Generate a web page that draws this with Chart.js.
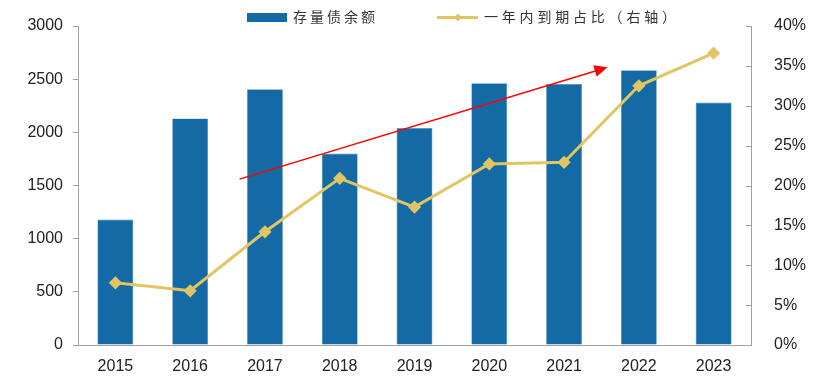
<!DOCTYPE html>
<html>
<head>
<meta charset="utf-8">
<script src="https://cdn.jsdelivr.net/npm/chart.js@4"></script>
<style>
  html, body { margin: 0; padding: 0; background: #fff; }
  #wrap { width: 817px; height: 391px; }
</style>
</head>
<body>
<div id="wrap"><canvas id="chart" width="817" height="391"></canvas></div>
<script>
const years = ['2015', '2016', '2017', '2018', '2019', '2020', '2021', '2022', '2023'];
const stock = [1180, 2130, 2405, 1800, 2040, 2462, 2455, 2585, 2280];
const dueRatio = [0.078, 0.068, 0.142, 0.209, 0.173, 0.227, 0.229, 0.325, 0.366];
const leftTicks = [0, 500, 1000, 1500, 2000, 2500, 3000];
const rightTicks = [0, 0.05, 0.1, 0.15, 0.2, 0.25, 0.3, 0.35, 0.4];
const seriesNames = ['存量债余额', '一年内到期占比（右轴）'];
// trend arrow, in data units (category index, left axis value)
const arrowFrom = [1.66, 1560];
const arrowTo = [6.58, 2612];

const BLUE = '#146aa4';
const GOLD = '#e2c563';

const trendArrow = {
  id: 'trendArrow',
  afterDatasetsDraw(chart) {
    const { ctx, scales } = chart;
    const x1 = scales.x.getPixelForValue(arrowFrom[0]);
    const y1 = scales.y.getPixelForValue(arrowFrom[1]);
    const x2 = scales.x.getPixelForValue(arrowTo[0]);
    const y2 = scales.y.getPixelForValue(arrowTo[1]);
    const ang = Math.atan2(y2 - y1, x2 - x1);
    ctx.save();
    ctx.strokeStyle = '#ff0000';
    ctx.fillStyle = '#ff0000';
    ctx.lineWidth = 1.5;
    ctx.beginPath();
    ctx.moveTo(x1, y1);
    ctx.lineTo(x2 - 10 * Math.cos(ang), y2 - 10 * Math.sin(ang));
    ctx.stroke();
    ctx.translate(x2, y2);
    ctx.rotate(ang);
    ctx.beginPath();
    ctx.moveTo(0, 0);
    ctx.lineTo(-13, -6);
    ctx.lineTo(-13, 6);
    ctx.closePath();
    ctx.fill();
    ctx.restore();
  }
};

// right axis ticks point inward like the original
const innerTicks = {
  id: 'innerTicks',
  afterDraw(chart) {
    const { ctx, scales } = chart;
    const s = scales.y1;
    ctx.save();
    ctx.strokeStyle = '#a0a0a0';
    ctx.lineWidth = 1;
    rightTicks.forEach(v => {
      const y = Math.round(s.getPixelForValue(v)) + 0.5;
      ctx.beginPath();
      ctx.moveTo(s.left - 5, y);
      ctx.lineTo(s.left, y);
      ctx.stroke();
    });
    ctx.restore();
  }
};

function drawChars(ctx, text, x, y, step) {
  for (let i = 0; i < text.length; i++) ctx.fillText(text[i], x + i * step, y);
}

const legendBar = {
  id: 'legendBar',
  afterDraw(chart) {
    const ctx = chart.ctx;
    ctx.save();
    ctx.fillStyle = BLUE;
    ctx.fillRect(247, 13, 40, 9);
    ctx.strokeStyle = GOLD;
    ctx.lineWidth = 3;
    ctx.beginPath();
    ctx.moveTo(437, 17.5);
    ctx.lineTo(478, 17.5);
    ctx.stroke();
    ctx.fillStyle = GOLD;
    ctx.beginPath();
    ctx.moveTo(458, 13.5);
    ctx.lineTo(462, 17.5);
    ctx.lineTo(458, 21.5);
    ctx.lineTo(454, 17.5);
    ctx.closePath();
    ctx.fill();
    ctx.fillStyle = '#333';
    ctx.font = '14px "Noto Sans CJK SC"';
    ctx.textBaseline = 'middle';
    drawChars(ctx, seriesNames[0], 293, 17, 17);
    drawChars(ctx, seriesNames[1], 484, 17, 17.8);
    ctx.restore();
  }
};

new Chart(document.getElementById('chart'), {
  data: {
    labels: years,
    datasets: [
      {
        type: 'line',
        label: seriesNames[1],
        data: dueRatio,
        yAxisID: 'y1',
        borderColor: GOLD,
        backgroundColor: GOLD,
        borderWidth: 3,
        pointStyle: 'rectRot',
        pointRadius: 4.5,
        pointHoverRadius: 4.5,
        tension: 0,
        order: 1
      },
      {
        type: 'bar',
        label: seriesNames[0],
        data: stock,
        yAxisID: 'y',
        backgroundColor: BLUE,
        borderColor: '#4b8fc0',
        borderWidth: 0.6,
        barPercentage: 0.48,
        categoryPercentage: 1,
        order: 2
      }
    ]
  },
  options: {
    responsive: false,
    animation: false,
    layout: { padding: { left: 0, right: 0, top: 26, bottom: 0 } },
    plugins: {
      legend: { display: false },
      tooltip: { enabled: false }
    },
    scales: {
      x: {
        offset: true,
        grid: { display: false },
        border: { color: '#a0a0a0', width: 1 },
        ticks: {
          color: '#222',
          padding: 4,
          font: { family: '"Liberation Sans", Arial', size: 16 }
        },
        afterFit: s => { s.height = 46; }
      },
      y: {
        position: 'left',
        min: 0,
        max: 3000,
        afterBuildTicks: s => { s.ticks = leftTicks.map(v => ({ value: v })); },
        grid: { drawOnChartArea: false, tickLength: 5, color: '#a0a0a0' },
        border: { color: '#a0a0a0', width: 1 },
        ticks: {
          color: '#222',
          padding: 10,
          font: { family: '"Liberation Sans", Arial', size: 16 },
          callback: v => String(v)
        },
        afterFit: s => { s.width = 78; }
      },
      y1: {
        position: 'right',
        min: 0,
        max: 0.4,
        afterBuildTicks: s => { s.ticks = rightTicks.map(v => ({ value: v })); },
        grid: { display: false },
        border: { color: '#a0a0a0', width: 1 },
        ticks: {
          color: '#222',
          padding: 15,
          font: { family: '"Liberation Sans", Arial', size: 16 },
          callback: v => Math.round(v * 100) + '%'
        },
        afterFit: s => { s.width = 66; }
      }
    }
  },
  plugins: [trendArrow, innerTicks, legendBar]
});
</script>
</body>
</html>
